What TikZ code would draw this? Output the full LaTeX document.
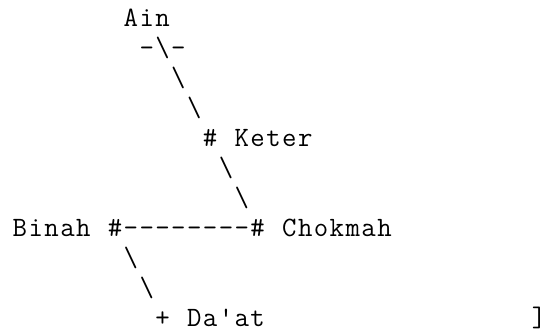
\documentclass[tikz,border=0pt]{standalone}
\usepackage{fontspec}
\def\monoEnd{\monoEnd}
\def\mono#1{\monoA#1\monoEnd}
\def\monoA#1{\ifx#1\monoEnd\else\makebox[15.85pt][c]{#1}\expandafter\monoA\fi}
\tikzset{
  ch/.style={inner sep=0pt, outer sep=0pt, anchor=base west,
    font=\ttfamily\fontsize{28}{28}\selectfont},
}
\newcommand\cx[1]{12+#1*15.85}
\newcommand\by[1]{-26-#1*30.0}
\begin{document}
\begin{tikzpicture}[x=1pt,y=1pt]
\useasboundingbox (0,0) rectangle (552,-333);
% line 0
\node[ch] (ain) at ({\cx{7}},{\by{0}}) {\mono{Ain}};
% line 1
\node[ch] (ainbar) at ({\cx{8}},{\by{1}}) {\mono{-\textbackslash-}};
% lines 2-3
\node[ch] (l2) at ({\cx{10}},{\by{2}}) {\mono{\textbackslash}};
\node[ch] (l3) at ({\cx{11}},{\by{3}}) {\mono{\textbackslash}};
% line 4
\node[ch] (keterpt) at ({\cx{12}},{\by{4}}) {\mono{\#}};
\node[ch] (keter) at ({\cx{14}},{\by{4}}) {\mono{Keter}};
% lines 5-6
\node[ch] (l5) at ({\cx{13}},{\by{5}}) {\mono{\textbackslash}};
\node[ch] (l6) at ({\cx{14}},{\by{6}}) {\mono{\textbackslash}};
% line 7
\node[ch] (binah) at ({\cx{0}},{\by{7}}) {\mono{Binah}};
\node[ch] (binahpt) at ({\cx{6}},{\by{7}}) {\mono{\#}};
\node[ch] (bar) at ({\cx{7}},{\by{7}}) {\mono{--------}};
\node[ch] (chokmahpt) at ({\cx{15}},{\by{7}}) {\mono{\#}};
\node[ch] (chokmah) at ({\cx{17}},{\by{7}}) {\mono{Chokmah}};
% lines 8-9
\node[ch] (l8) at ({\cx{7}},{\by{8}}) {\mono{\textbackslash}};
\node[ch] (l9) at ({\cx{8}},{\by{9}}) {\mono{\textbackslash}};
% line 10
\node[ch] (daatpt) at ({\cx{9}},{\by{10}}) {\mono{+}};
\node[ch] (daat) at ({\cx{11}},{\by{10}}) {\mono{Da'at}};
\node[ch] (bracket) at ({\cx{33}-4},{\by{10}}) {\mono{]}};
\end{tikzpicture}
\end{document}
